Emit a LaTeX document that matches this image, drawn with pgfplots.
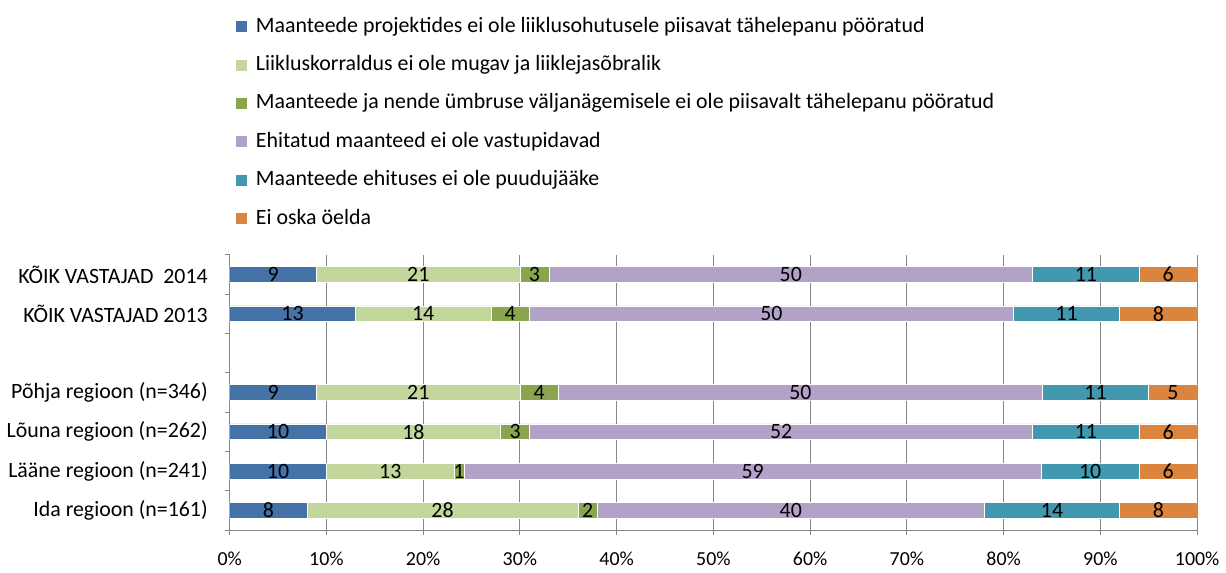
\documentclass[border=0pt]{standalone}
\usepackage{pgfplots}
\pgfplotsset{compat=1.18}
\usepackage{fontspec}
\setmainfont{Carlito}

\definecolor{cBlue}{HTML}{4572A7}
\definecolor{cLgreen}{HTML}{C3D69B}
\definecolor{cOlive}{HTML}{89A54E}
\definecolor{cPurple}{HTML}{B3A2C7}
\definecolor{cTeal}{HTML}{4198AF}
\definecolor{cOrange}{HTML}{DB843D}
\definecolor{cGrid}{HTML}{868686}

\begin{document}
\begin{tikzpicture}
\begin{axis}[
    scale only axis,
    width=486.5pt, height=138.5pt,
    xbar stacked,
    bar width=8pt,
    xmin=0, xmax=100,
    ymin=-0.5, ymax=6.5,
    y dir=reverse,
    axis x line*=bottom,
    axis y line*=left,
    axis line style={cGrid, line width=0.5pt},
    xtick={0,10,...,100},
    xticklabels={0\%,10\%,20\%,30\%,40\%,50\%,60\%,70\%,80\%,90\%,100\%},
    xmajorgrids,
    grid style={cGrid, line width=0.5pt},
    tick align=outside,
    major tick length=2.5pt,
    tick style={cGrid, line width=0.5pt},
    ytick={-0.5,0.5,1.5,2.5,3.5,4.5,5.5,6.5},
    yticklabels={},
    extra y ticks={0,1,3,4,5,6},
    extra y tick labels={KÕIK VASTAJAD\ \ 2014, KÕIK VASTAJAD 2013, Põhja regioon (n=346), Lõuna regioon (n=262), Lääne regioon (n=241), Ida regioon (n=161)},
    extra y tick style={major tick length=0pt, yticklabel style={xshift=-7.5pt, font=\fontsize{11}{13}\selectfont}},
    tick label style={font=\fontsize{10}{12}\selectfont, black},
    xticklabel style={yshift=-5pt},
    point meta=explicit symbolic,
    nodes near coords,
    every node near coord/.append style={font=\fontsize{11}{13}\selectfont, black, anchor=center},
    every axis plot post/.append style={draw=white, line width=0.3pt,
        legend image code/.code={\fill[##1, draw=none] (0pt,-2.75pt) rectangle (5.5pt,2.75pt);}},
    legend style={
        draw=none, fill=none,
        at={(rel axis cs:0,1)}, anchor=south west,
        xshift=3pt, yshift=13pt,
        inner sep=0pt,
        row sep=9.4pt,
        cells={anchor=west},
        nodes={inner xsep=4.5pt, inner ysep=0pt, text height=7.7pt, text depth=2.2pt, font=\fontsize{11}{13}\selectfont},
    },
]
\addplot[fill=cBlue] coordinates {
    (9,0) [9] (13,1) [13] (9,3) [9] (10,4) [10] (10,5) [10] (8,6) [8]
};
\addplot[fill=cLgreen] coordinates {
    (21,0) [21] (14,1) [14] (21,3) [21] (18,4) [18] (13.2,5) [13] (28,6) [28]
};
\addplot[fill=cOlive] coordinates {
    (3,0) [3] (4,1) [4] (4,3) [4] (3,4) [3] (1,5) [1] (2,6) [2]
};
\addplot[fill=cPurple] coordinates {
    (50,0) [50] (50,1) [50] (50,3) [50] (52,4) [52] (59.7,5) [59] (40,6) [40]
};
\addplot[fill=cTeal] coordinates {
    (11,0) [11] (11,1) [11] (11,3) [11] (11,4) [11] (10.1,5) [10] (14,6) [14]
};
\addplot[fill=cOrange] coordinates {
    (6,0) [6] (8,1) [8] (5,3) [5] (6,4) [6] (6,5) [6] (8,6) [8]
};
\legend{Maanteede projektides ei ole liiklusohutusele piisavat tähelepanu pööratud,
    Liikluskorraldus ei ole mugav ja liiklejasõbralik,
    Maanteede ja nende ümbruse väljanägemisele ei ole piisavalt tähelepanu pööratud,
    Ehitatud maanteed ei ole vastupidavad,
    Maanteede ehituses ei ole puudujääke,
    Ei oska öelda}
\end{axis}
\path ([yshift=8.5pt]current bounding box.north);
\end{tikzpicture}
\end{document}
